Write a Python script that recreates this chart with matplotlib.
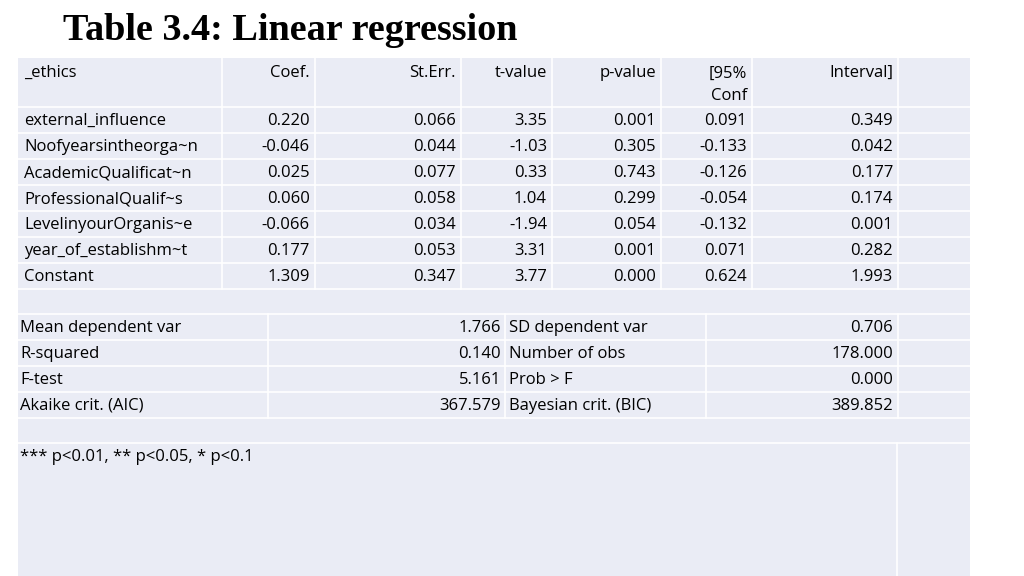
import matplotlib
matplotlib.use("Agg")
import matplotlib.pyplot as plt
from matplotlib.patches import Rectangle

title = "Table 3.4: Linear regression"
headers = ["_ethics", "Coef.", "St.Err.", "t-value", "p-value", "[95%\nConf", "Interval]", ""]
variables = ["external_influence", "Noofyearsintheorga~n", "AcademicQualificat~n",
             "ProfessionalQualif~s", "LevelinyourOrganis~e", "year_of_establishm~t", "Constant"]
coef = ["0.220", "-0.046", "0.025", "0.060", "-0.066", "0.177", "1.309"]
stderr = ["0.066", "0.044", "0.077", "0.058", "0.034", "0.053", "0.347"]
tval = ["3.35", "-1.03", "0.33", "1.04", "-1.94", "3.31", "3.77"]
pval = ["0.001", "0.305", "0.743", "0.299", "0.054", "0.001", "0.000"]
ci_lo = ["0.091", "-0.133", "-0.126", "-0.054", "-0.132", "0.071", "0.624"]
ci_hi = ["0.349", "0.042", "0.177", "0.174", "0.001", "0.282", "1.993"]
stat_left_names = ["Mean dependent var", "R-squared", "F-test", "Akaike crit. (AIC)"]
stat_left_vals = ["1.766", "0.140", "5.161", "367.579"]
stat_right_names = ["SD dependent var", "Number of obs", "Prob > F", "Bayesian crit. (BIC)"]
stat_right_vals = ["0.706", "178.000", "0.000", "389.852"]
footnote = "*** p<0.01, ** p<0.05, * p<0.1"

fig = plt.figure(figsize=(10.24, 5.76), dpi=100)
ax = fig.add_axes([0, 0, 1, 1])
ax.set_xlim(0, 1024); ax.set_ylim(576, 0); ax.axis("off")
BG = "#eaecf5"
FONT = "Open Sans"
FS = 12

ax.add_patch(Rectangle((18, 58), 952, 520, facecolor=BG, edgecolor="none"))
ax.text(63, 30, title, fontsize=27.5, fontweight="bold", family="Liberation Serif",
        va="center", ha="left")

def hline(y, x0=18, x1=970):
    ax.plot([x0, x1], [y, y], color="white", lw=1.2)
def vline(x, y0, y1):
    ax.plot([x, x], [y0, y1], color="white", lw=1.2)

cols = [18, 222, 315, 461, 552, 661, 752, 898, 970]
rows = [58, 107] + [107 + 26 * (i + 1) for i in range(7)]
for y in rows[1:]:
    hline(y)
for x in cols[1:-1]:
    vline(x, 58, rows[-1])

for j, h in enumerate(headers[:-1]):
    if j == 0:
        ax.text(cols[0] + 6, 73, h, fontsize=FS, family=FONT, va="center", ha="left")
    else:
        ax.text(cols[j + 1] - 5, 85 if "\n" in h else 73, h, fontsize=FS, family=FONT,
                va="center", ha="right", linespacing=1.45)

body = [variables, coef, stderr, tval, pval, ci_lo, ci_hi]
for i in range(len(variables)):
    yc = rows[1] + 26 * i + 14
    for j, colvals in enumerate(body):
        if j == 0:
            ax.text(cols[0] + 6, yc, colvals[i], fontsize=FS, family=FONT, va="center", ha="left")
        else:
            ax.text(cols[j + 1] - 5, yc, colvals[i], fontsize=FS, family=FONT, va="center", ha="right")

srows = [314 + 26 * i for i in range(5)]
for y in srows:
    hline(y)
scols = [18, 268, 505, 706, 898, 970]
for x in scols[1:-1]:
    vline(x, srows[0], srows[-1])
for i in range(4):
    yc = srows[i] + 14
    ax.text(scols[0] + 2, yc, stat_left_names[i], fontsize=FS, family=FONT, va="center", ha="left")
    ax.text(scols[2] - 4, yc, stat_left_vals[i], fontsize=FS, family=FONT, va="center", ha="right")
    ax.text(scols[2] + 4, yc, stat_right_names[i], fontsize=FS, family=FONT, va="center", ha="left")
    ax.text(scols[4] - 5, yc, stat_right_vals[i], fontsize=FS, family=FONT, va="center", ha="right")

hline(443)
vline(897, 443, 576)
ax.text(20, 457, footnote, fontsize=FS, family=FONT, va="center", ha="left")

fig.savefig("out.png", dpi=100)
